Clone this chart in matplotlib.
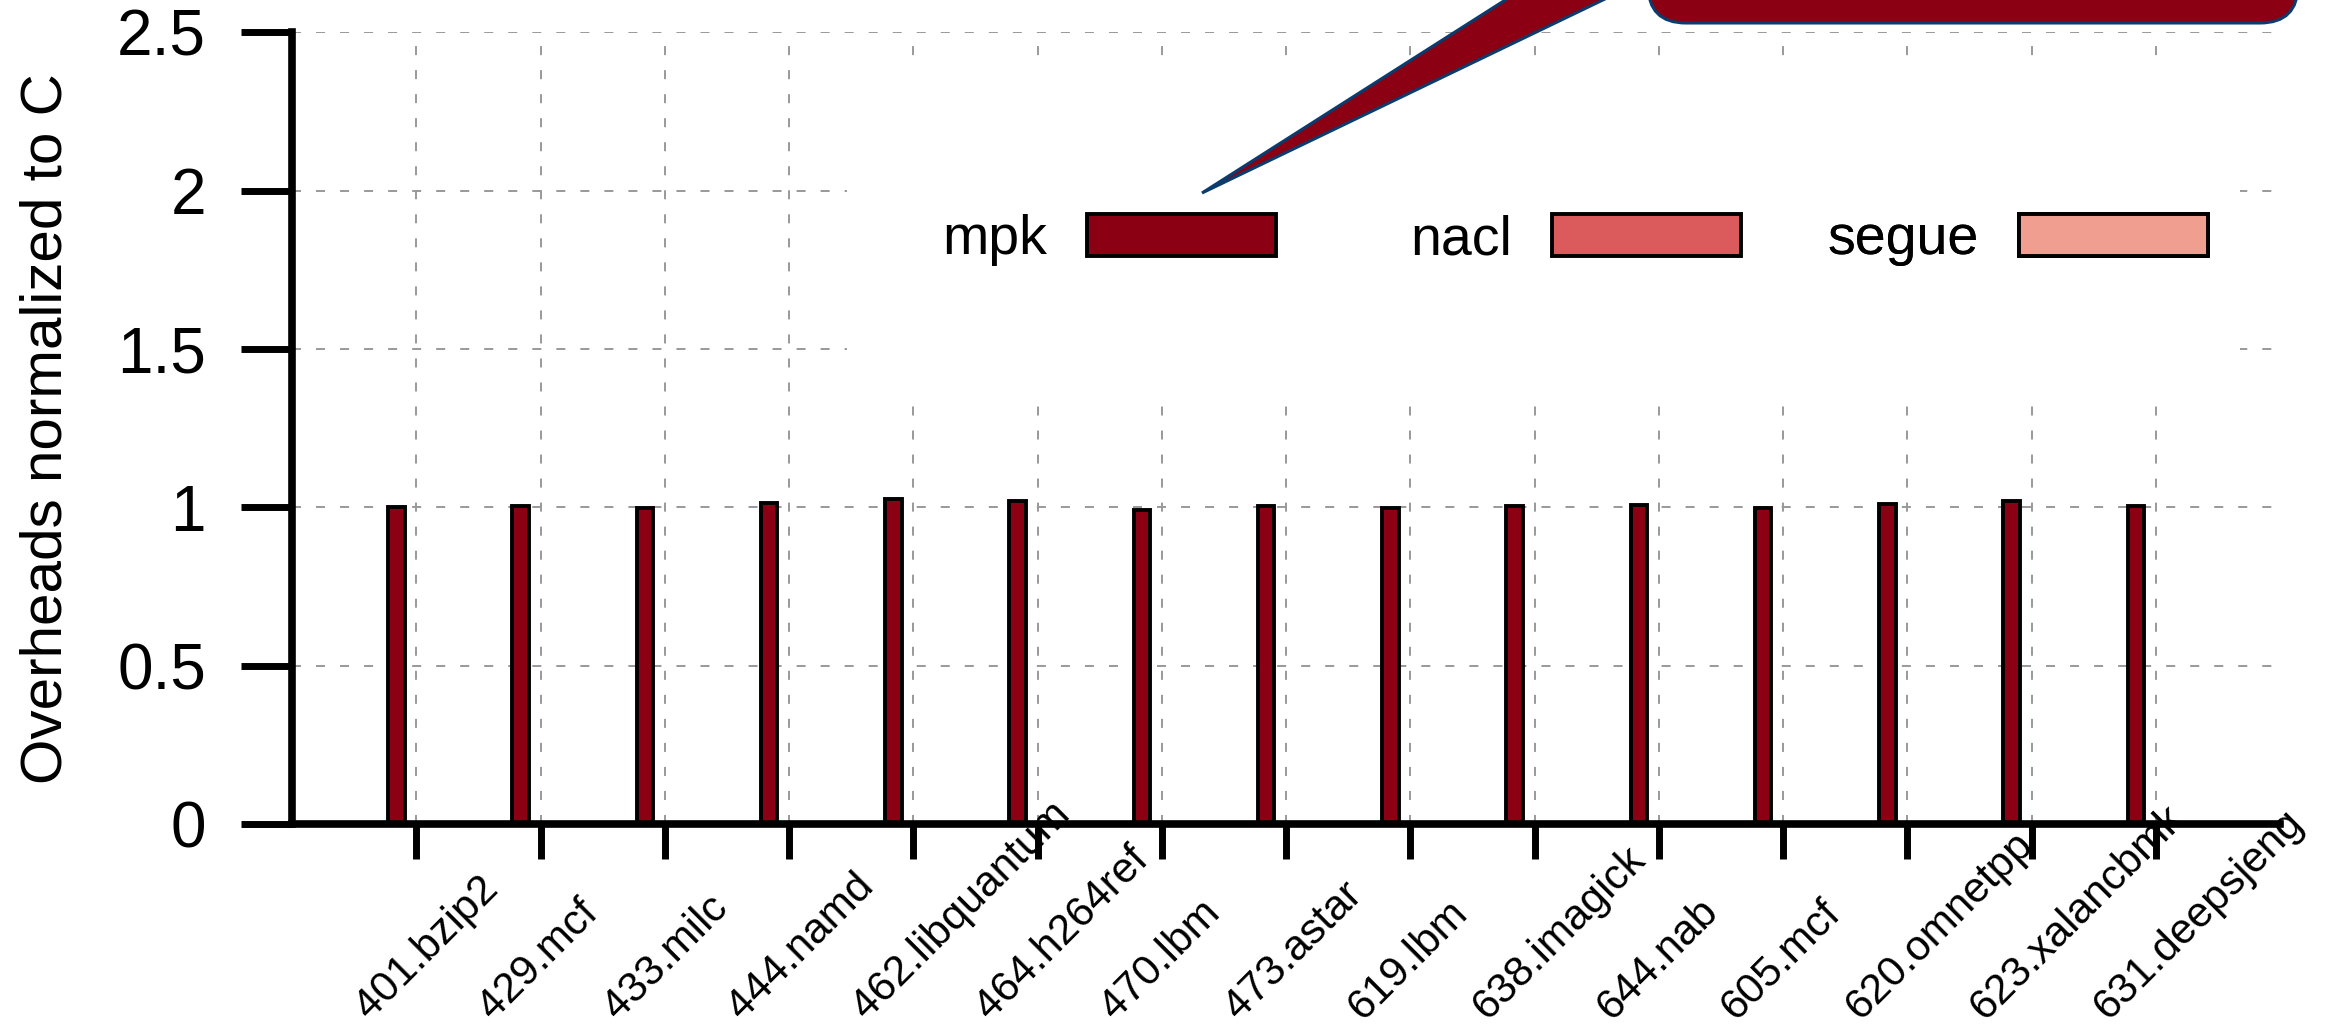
import numpy as np
import matplotlib
matplotlib.use("Agg")
import matplotlib.pyplot as plt
from matplotlib.patches import Patch, Rectangle, FancyBboxPatch, Polygon
from matplotlib.transforms import IdentityTransform, ScaledTranslation, blended_transform_factory

# Benchmarks and overheads normalized to the C baseline
benchmarks = ["401.bzip2", "429.mcf", "433.milc", "444.namd", "462.libquantum",
              "464.h264ref", "470.lbm", "473.astar", "619.lbm", "638.imagick",
              "644.nab", "605.mcf", "620.omnetpp", "623.xalancbmk", "631.deepsjeng"]
nan = float("nan")
mpk = [1.000, 1.004, 0.997, 1.013, 1.026, 1.019, 0.992, 1.005, 0.999, 1.005,
       1.007, 0.998, 1.009, 1.020, 1.005]
nacl = [nan, nan, nan, nan, nan, nan, nan, nan, nan, nan, nan, nan, nan, nan, nan]
segue = [nan, nan, nan, nan, nan, nan, nan, nan, nan, nan, nan, nan, nan, nan, nan]
series_names = ["mpk", "nacl", "segue"]
y_ticks = [0, 0.5, 1, 1.5, 2, 2.5]
y_tick_labels = ["0", "0.5", "1", "1.5", "2", "2.5"]

colors = {"mpk": "#8B0012", "nacl": "#DB5A5B", "segue": "#F09E8F"}
navy = "#0B3C6E"

plt.rcParams["font.family"] = ["Liberation Sans", "DejaVu Sans"]
plt.rcParams["lines.scale_dashes"] = False

W, H = 2325, 1031
fig = plt.figure(figsize=(W / 100, H / 100), dpi=100)
ax = fig.add_axes([292 / W, 1 - 824 / H, (2280 - 292) / W, (824 - 32.3) / H])

x = np.arange(len(benchmarks))
width = 0.133
offsets = [-0.16, 0.0, 0.16]
for name, vals, off in zip(series_names, [mpk, nacl, segue], offsets):
    ax.bar(x + off, vals, width, color=colors[name], edgecolor="black",
           linewidth=2.8, label=name, zorder=2)

ax.set_xlim(-1, 15)
ax.set_ylim(0, 2.5)
ax.set_yticks(y_ticks, labels=y_tick_labels)
ax.set_xticks(x)
ax.tick_params(axis="x", direction="out", length=25, width=5, labelbottom=False)
ax.tick_params(axis="y", direction="out", length=37, width=5, pad=25, labelsize=46)

ax.set_axisbelow(True)
ax.grid(True, color="#999999", linewidth=1.4, linestyle=(0, (6.5, 10.8)))

for side in ("top", "right"):
    ax.spines[side].set_visible(False)
for side in ("left", "bottom"):
    ax.spines[side].set_linewidth(5.5)

ax.set_ylabel("Overheads normalized to C", fontsize=42)
ax.yaxis.set_label_coords(-0.110, 0.5)

# Rotated benchmark names under the x axis
label_trans = blended_transform_factory(ax.transData, ax.transAxes) + \
    ScaledTranslation(-69 / 100, 0, fig.dpi_scale_trans)
for xi, name in zip(x, benchmarks):
    ax.text(xi, (824 - 1027) / (824 - 32.3), name, transform=label_trans,
            rotation=45, ha="left", va="bottom", fontsize=30.5, clip_on=False)

# Opaque key area
ax.add_patch(Rectangle((3.47, 1.32), 11.21, 1.06, facecolor="white",
                       edgecolor="none", zorder=1))

# Key: label text right-aligned before each swatch
swatch_right = [1276, 1741, 2208]
for name, xr in zip(series_names, swatch_right):
    handle = Patch(facecolor=colors[name], edgecolor="black", linewidth=2.8)
    leg = ax.legend([handle], [name], loc="center right",
                    bbox_to_anchor=(xr / W, 1 - 240 / H),
                    bbox_transform=fig.transFigure, frameon=False,
                    markerfirst=False, fontsize=40, handlelength=3.4,
                    handleheight=0.8, handletextpad=0.72, borderpad=0,
                    borderaxespad=0)
    leg.set_zorder(5)
    ax.add_artist(leg)

# Callout bubble over the top of the figure
body = FancyBboxPatch((1648, H - 23), 2298 - 1648, 200,
                      boxstyle="round,pad=0,rounding_size=38",
                      transform=IdentityTransform(), facecolor=colors["mpk"],
                      edgecolor=navy, linewidth=2.2, zorder=10)
fig.add_artist(body)
tail = Polygon([(1202, H - 193), (1631, H + 80), (1769, H + 80)], closed=True,
               transform=IdentityTransform(), facecolor=colors["mpk"],
               edgecolor=navy, linewidth=2.2, zorder=10)
fig.add_artist(tail)

fig.savefig("out.png", dpi=100)
